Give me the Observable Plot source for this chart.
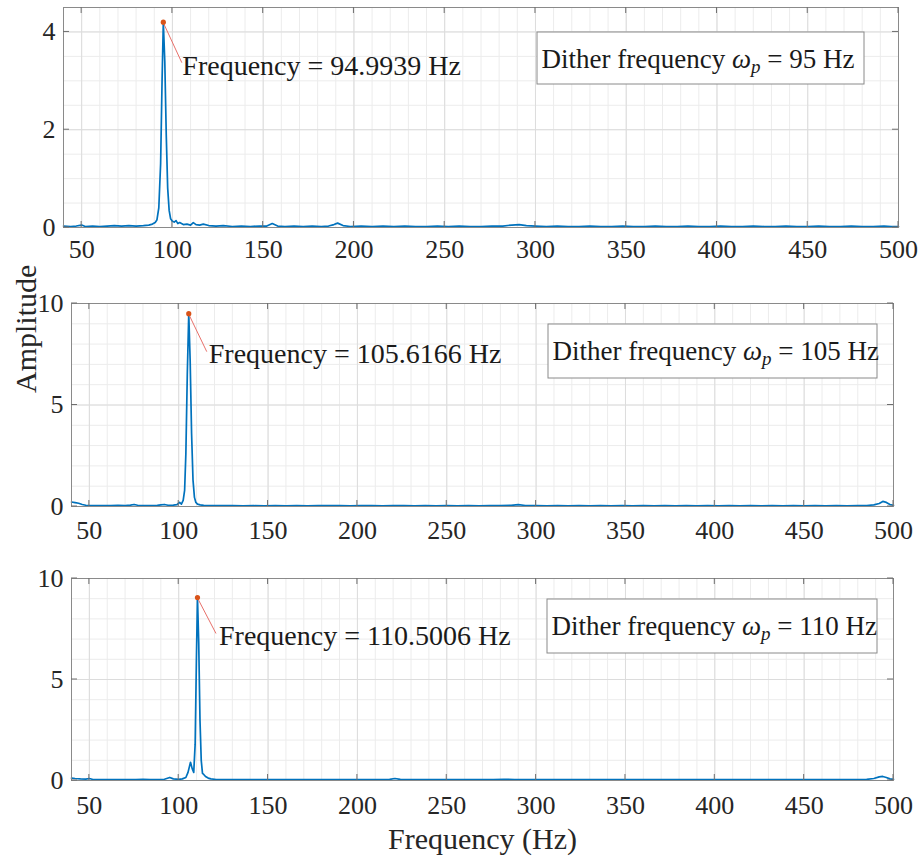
<!DOCTYPE html>
<html><head><meta charset="utf-8">
<script src="https://cdn.jsdelivr.net/npm/d3@7"></script>
<script src="https://cdn.jsdelivr.net/npm/@observablehq/plot@0.6"></script>
<style>
body{margin:0;background:#fff}
#chart{width:924px;height:860px;position:relative;background:#fff}
#chart svg{display:block}
#chart svg text{font-family:'Liberation Serif','Times New Roman',serif}
</style>
</head><body><div id="chart"></div>
<script>
// ---- data ----
const xTicks = [50,100,150,200,250,300,350,400,450,500];
const yTicksA = [0,2,4];
const yTicksB = [0,5,10];
const ditherFreqs = [95,105,110];
const peakFreqs = [94.9939,105.6166,110.5006];
const peakAmps = [4.2,9.5,9.06];

const spectrum95 = [[40,0.03],[44,0.02],[47,0.03],[50,0.05],[52,0.02],[56,0.03],[60,0.02],[64,0.03],[68,0.04],[72,0.03],[76,0.04],[80,0.03],[84,0.04],[87,0.05],[89,0.07],[90.5,0.1],[91.5,0.16],[92.5,0.4],[93.5,1.3],[94.3,3.0],[94.9939,4.2],[95.8,3.4],[96.6,1.9],[97.4,0.8],[98.2,0.35],[99,0.18],[100,0.13],[101,0.11],[102,0.14],[103,0.08],[104,0.1],[106,0.06],[108,0.07],[110,0.05],[111.5,0.1],[113,0.06],[115,0.05],[117,0.07],[120,0.04],[124,0.03],[128,0.04],[133,0.02],[138,0.03],[143,0.02],[148,0.03],[152,0.03],[155,0.08],[158,0.03],[162,0.02],[167,0.03],[172,0.02],[177,0.03],[182,0.02],[186,0.03],[189,0.06],[191,0.09],[194,0.04],[198,0.02],[204,0.03],[210,0.02],[216,0.03],[222,0.02],[228,0.03],[234,0.02],[240,0.02],[246,0.03],[252,0.02],[258,0.03],[264,0.02],[270,0.02],[276,0.03],[282,0.03],[287,0.05],[291,0.06],[295,0.04],[300,0.03],[306,0.02],[312,0.03],[318,0.02],[324,0.02],[330,0.03],[336,0.02],[342,0.02],[348,0.03],[354,0.02],[360,0.02],[366,0.03],[372,0.02],[378,0.02],[384,0.03],[390,0.02],[396,0.02],[402,0.03],[408,0.02],[414,0.02],[420,0.03],[426,0.02],[432,0.02],[438,0.03],[444,0.02],[450,0.02],[456,0.03],[462,0.02],[468,0.02],[474,0.03],[480,0.02],[486,0.02],[492,0.03],[496,0.02],[500,0.02]];

const spectrum105 = [[40,0.22],[42,0.19],[44,0.16],[46,0.1],[48,0.06],[50,0.05],[54,0.04],[58,0.05],[62,0.04],[66,0.06],[70,0.05],[73,0.07],[75,0.1],[77,0.06],[80,0.05],[84,0.04],[88,0.06],[90,0.08],[92,0.1],[94,0.06],[97,0.07],[99,0.09],[100.5,0.2],[101.5,0.12],[102.5,0.3],[103.3,0.8],[104,2.6],[104.8,6.5],[105.6166,9.5],[106.4,7.2],[107.2,3.6],[108,1.3],[108.8,0.45],[109.6,0.2],[110.5,0.12],[112,0.08],[114,0.06],[117,0.05],[120,0.04],[125,0.05],[130,0.04],[136,0.03],[142,0.04],[148,0.03],[154,0.04],[160,0.03],[166,0.04],[172,0.03],[178,0.04],[184,0.05],[190,0.04],[196,0.03],[202,0.05],[208,0.04],[214,0.03],[220,0.05],[226,0.04],[232,0.03],[238,0.04],[244,0.03],[250,0.04],[256,0.03],[262,0.04],[268,0.03],[274,0.04],[280,0.05],[286,0.06],[290,0.09],[294,0.05],[300,0.04],[306,0.03],[312,0.04],[318,0.03],[324,0.04],[330,0.03],[336,0.04],[342,0.03],[348,0.04],[354,0.03],[360,0.04],[366,0.03],[372,0.04],[378,0.03],[384,0.04],[390,0.03],[396,0.04],[402,0.03],[408,0.04],[414,0.03],[420,0.04],[426,0.03],[432,0.04],[438,0.03],[444,0.04],[450,0.03],[456,0.04],[462,0.03],[468,0.04],[474,0.03],[480,0.04],[485,0.05],[489,0.08],[492,0.15],[494,0.25],[496,0.2],[498,0.1],[500,0.06]];

const spectrum110 = [[40,0.12],[42,0.1],[45,0.08],[48,0.07],[50,0.1],[52,0.05],[56,0.04],[60,0.05],[64,0.04],[68,0.05],[72,0.04],[76,0.05],[80,0.06],[84,0.04],[88,0.05],[92,0.06],[95,0.15],[97,0.08],[100,0.06],[102,0.08],[104,0.15],[105.2,0.4],[106.6,0.9],[107.5,0.6],[108.4,0.4],[109.2,1.8],[109.9,6.0],[110.5006,9.06],[111.2,6.8],[111.9,3.0],[112.6,1.0],[113.3,0.35],[114,0.3],[115,0.2],[116.5,0.12],[118,0.08],[121,0.05],[125,0.04],[130,0.05],[136,0.04],[142,0.05],[148,0.04],[154,0.05],[160,0.04],[166,0.05],[172,0.04],[178,0.05],[184,0.04],[190,0.05],[196,0.04],[202,0.05],[208,0.04],[214,0.05],[218,0.06],[221,0.1],[224,0.06],[228,0.05],[234,0.04],[240,0.05],[246,0.04],[252,0.05],[258,0.04],[264,0.05],[270,0.04],[276,0.05],[282,0.06],[288,0.05],[294,0.04],[300,0.05],[306,0.04],[312,0.05],[318,0.04],[324,0.05],[330,0.04],[336,0.05],[342,0.04],[348,0.05],[354,0.04],[360,0.05],[366,0.04],[372,0.05],[378,0.04],[384,0.05],[390,0.04],[396,0.05],[402,0.04],[408,0.05],[414,0.04],[420,0.05],[426,0.04],[432,0.05],[438,0.04],[444,0.05],[450,0.04],[456,0.05],[462,0.04],[468,0.05],[474,0.04],[480,0.05],[485,0.06],[489,0.1],[492,0.18],[494,0.2],[496,0.15],[498,0.08],[500,0.06]];

// ---- layout ----
const FONT = "'Liberation Serif', 'Times New Roman', serif";
const panels = [
  {data: spectrum95, yDomain:[0,4.5], yTicks:yTicksA, yMinor:0.5, height:265, mt:7, mb:38, ml:63, mr:26, xPad:12,
   box:{x:537,y:32,w:327,h:52}, lead:[19,41], txt:[19,53]},
  {data: spectrum105, yDomain:[0,10], yTicks:yTicksB, yMinor:1, height:280, mt:38, mb:39, ml:71, mr:31, xPad:14,
   box:{x:548,y:59,w:329,h:54}, lead:[18.5,38.5], txt:[20,49.5], ylabel:true},
  {data: spectrum110, yDomain:[0,10], yTicks:yTicksB, yMinor:1, height:315, mt:33, mb:80, ml:71, mr:31, xPad:15,
   box:{x:547,y:54,w:330,h:54}, lead:[19,36.5], txt:[21.5,47.5], xlabel:true}
];

function innerTicks(xt, yt) {
  return (index, scales, values, dims) => {
    const {x, y} = scales;
    const l = dims.marginLeft, t = dims.marginTop, r = dims.width - dims.marginRight, b = dims.height - dims.marginBottom;
    const g = d3.create("svg:g").attr("stroke", "#6e6e6e").attr("stroke-width", 1);
    for (const v of xt) {
      const px = x(v);
      g.append("line").attr("x1", px).attr("x2", px).attr("y1", b).attr("y2", b - 6);
      g.append("line").attr("x1", px).attr("x2", px).attr("y1", t).attr("y2", t + 6);
    }
    for (const v of yt) {
      const py = y(v);
      g.append("line").attr("x1", l).attr("x2", l + 6).attr("y1", py).attr("y2", py);
      g.append("line").attr("x1", r).attr("x2", r - 6).attr("y1", py).attr("y2", py);
    }
    return g.node();
  };
}

function leader(f, a, off) {
  return (index, scales) => {
    const px = scales.x(f), py = scales.y(a);
    return d3.create("svg:line").attr("x1", px).attr("y1", py)
      .attr("x2", px + off[0]).attr("y2", py + off[1])
      .attr("stroke", "#e8706a").attr("stroke-width", 1).node();
  };
}

function legendBox(b, dither) {
  return () => {
    const g = d3.create("svg:g");
    g.append("rect").attr("x", b.x).attr("y", b.y).attr("width", b.w).attr("height", b.h)
      .attr("fill", "white").attr("stroke", "#8a8a8a").attr("stroke-width", 1);
    const t = g.append("text").attr("x", b.x + 4.5).attr("y", b.y + 36)
      .attr("text-anchor", "start")
      .attr("font-family", FONT).attr("font-size", 27).attr("fill", "#1a1a1a");
    t.append("tspan").text("Dither frequency ");
    t.append("tspan").attr("font-style", "italic").text("ω");
    t.append("tspan").attr("font-style", "italic").attr("font-size", 19).attr("dy", 5).text("p");
    t.append("tspan").attr("dy", -5).text(" = " + dither + " Hz");
    return g.node();
  };
}

const chart = document.getElementById("chart");
panels.forEach((p, i) => {
  const f = peakFreqs[i], a = peakAmps[i];
  const marks = [
    Plot.gridX(d3.range(40, 501, 10), {stroke: "#ececec", strokeOpacity: 1}),
    Plot.gridY(d3.range(0, p.yDomain[1] + 1e-9, p.yMinor), {stroke: "#ececec", strokeOpacity: 1}),
    Plot.gridX(xTicks, {stroke: "#dcdcdc", strokeOpacity: 1}),
    Plot.gridY(p.yTicks, {stroke: "#dcdcdc", strokeOpacity: 1}),
    Plot.line(p.data, {x: d => d[0], y: d => d[1], stroke: "#0072BD", strokeWidth: 1.7, curve: "linear"}),
    Plot.frame({stroke: "#8a8a8a", strokeWidth: 1}),
    innerTicks(xTicks, p.yTicks),
    Plot.axisX(xTicks, {tickSize: 0, tickPadding: p.xPad, fontSize: 26, fontFamily: FONT, fill: "#262626", label: null}),
    Plot.axisY(p.yTicks, {tickSize: 0, tickPadding: 8, fontSize: 26, fontFamily: FONT, fill: "#262626", label: null}),
    leader(f, a, p.lead),
    Plot.dot([[f, a]], {x: d => d[0], y: d => d[1], r: 2.6, fill: "#D95319", stroke: null}),
    Plot.text([[f, a]], {x: d => d[0], y: d => d[1], text: d => "Frequency = " + d[0].toFixed(4) + " Hz",
      textAnchor: "start", lineAnchor: "bottom", dx: p.txt[0], dy: p.txt[1], fontSize: 28, fontFamily: FONT, fill: "#1a1a1a"}),
    legendBox(p.box, ditherFreqs[i])
  ];
  if (p.ylabel) marks.push(Plot.text(["Amplitude"], {frameAnchor: "left", rotate: -90, dx: -45, dy: -12, fontSize: 30, fontFamily: FONT, fill: "#262626"}));
  if (p.xlabel) marks.push(Plot.text(["Frequency (Hz)"], {frameAnchor: "bottom", lineAnchor: "bottom", dy: 68, fontSize: 30, fontFamily: FONT, fill: "#262626"}));
  const svg = Plot.plot({
    width: 924, height: p.height,
    marginTop: p.mt, marginBottom: p.mb, marginLeft: p.ml, marginRight: p.mr,
    x: {domain: [40, 500], axis: null},
    y: {domain: p.yDomain, axis: null},
    style: {fontFamily: FONT, fontSize: "26px", color: "#262626", background: "white", overflow: "visible"},
    marks
  });
  chart.appendChild(svg);
});
</script></body></html>
